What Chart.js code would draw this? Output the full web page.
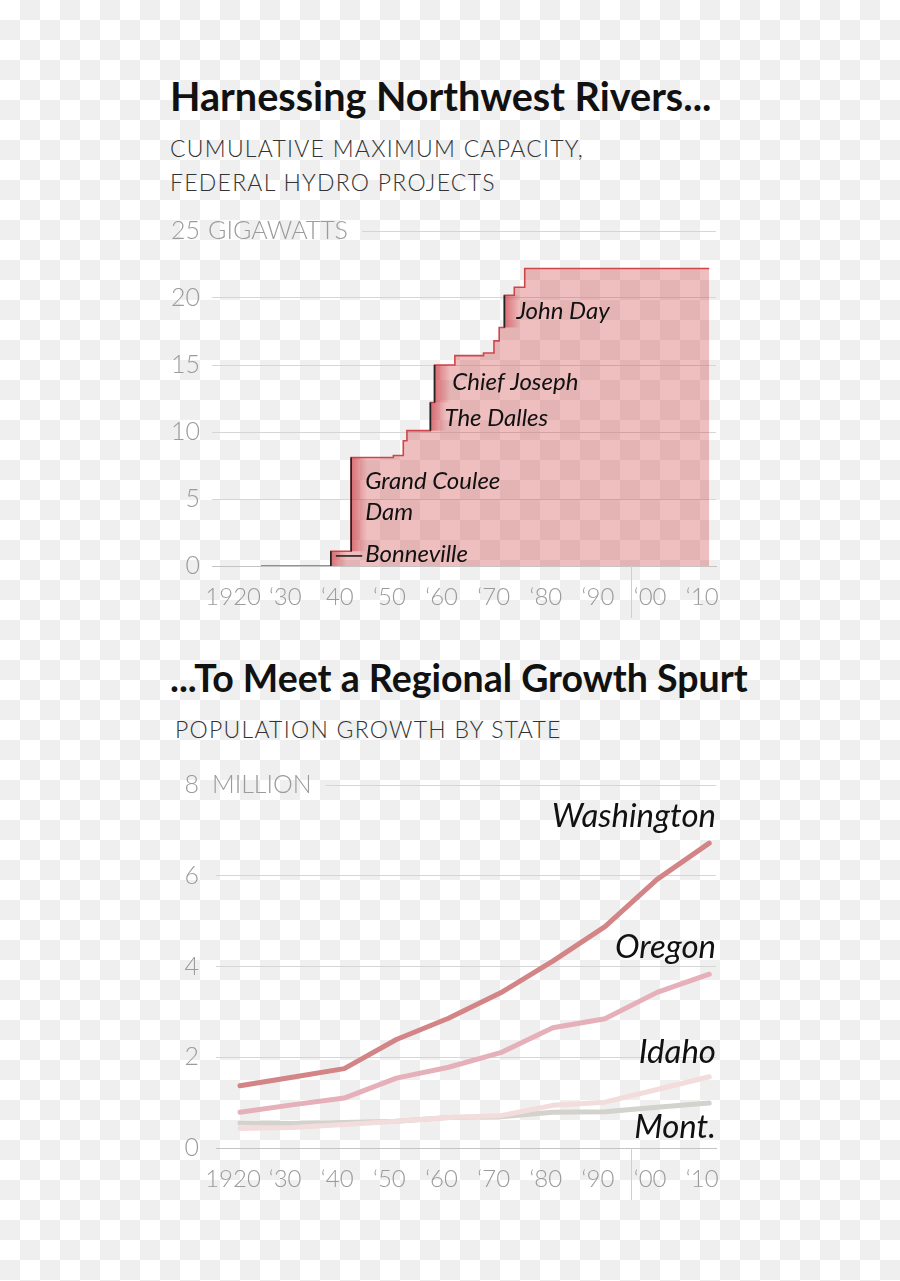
<!DOCTYPE html>
<html>
<head>
<meta charset="utf-8">
<script src="https://cdn.jsdelivr.net/npm/chart.js@4.4.1/dist/chart.umd.min.js"></script>
<style>
  html, body { margin: 0; padding: 0; }
  body {
    width: 900px; height: 1281px; position: relative; overflow: hidden;
    background: repeating-conic-gradient(#efefef 0 25%, #ffffff 0 50%) 0 0 / 40px 40px;
    font-family: Lato, "Noto Sans", sans-serif;
  }
  .title { position: absolute; left: 170px; font-weight: 700; line-height: 1; color: #111; white-space: nowrap; }
  .sub { position: absolute; font-weight: 300; font-size: 23px; line-height: 34px; letter-spacing: 1.25px; color: #333; white-space: nowrap; }
  .box { position: absolute; left: 160px; width: 570px; }
</style>
</head>
<body>
<div class="title" style="top:76px; font-size:39.6px">Harnessing Northwest Rivers...</div>
<div class="sub" style="left:170px; top:131px">CUMULATIVE MAXIMUM CAPACITY,<br>FEDERAL HYDRO PROJECTS</div>
<div class="box" style="top:215px; height:415px"><canvas id="capacityChart"></canvas></div>

<div class="title" style="top:659px; font-size:37.5px">...To Meet a Regional Growth Spurt</div>
<div class="sub" style="left:175px; top:712px">POPULATION GROWTH BY STATE</div>
<div class="box" style="top:770px; height:440px"><canvas id="populationChart"></canvas></div>

<script>
// Capacity of federal hydro projects (gigawatts), stepping up at each year
const capacityYears = [1924, 1937.4, 1941.3, 1949.4, 1951.3, 1952, 1956.5, 1957.3, 1961.2, 1966.7, 1968.7, 1969.7, 1970.7, 1972.6, 1974.6, 2010];
const capacityGW = [0, 1.1, 8.1, 8.25, 9.35, 10.1, 12.2, 15.0, 15.7, 15.9, 16.8, 17.8, 20.2, 20.8, 22.2, 22.2];

// Dams called out on the chart: the step they belong to and where the label sits
const damNames = ['Bonneville', 'Grand Coulee', 'Dam', 'The Dalles', 'Chief Joseph', 'John Day'];
const damSteps = [1, 2, 6, 7, 12];
const damLabelYears = [1944.0, 1944.0, 1944.0, 1959.2, 1960.7, 1973.0];
const damLabelValues = [0.9, 6.3, 4.0, 11.0, 13.7, 19.0];

// Population by state (millions), census years
const censusYears = [1920, 1930, 1940, 1950, 1960, 1970, 1980, 1990, 2000, 2010];
const washington = [1.37, 1.56, 1.75, 2.39, 2.86, 3.42, 4.12, 4.88, 5.92, 6.72];
const oregon = [0.79, 0.95, 1.10, 1.54, 1.78, 2.10, 2.65, 2.85, 3.43, 3.83];
const idaho = [0.43, 0.45, 0.52, 0.59, 0.67, 0.71, 0.94, 1.01, 1.29, 1.57];
const montana = [0.55, 0.54, 0.56, 0.59, 0.67, 0.69, 0.79, 0.80, 0.90, 0.99];
const stateNames = ['Washington', 'Oregon', 'Idaho', 'Mont.'];
const stateLabelValues = [7.3, 4.43, 2.11, 0.46];

const decadeTicks = [1920, 1930, 1940, 1950, 1960, 1970, 1980, 1990, 2000, 2010];
const dividerYear = 1995;

const FONT = 'Lato, "Noto Sans", sans-serif';
const tickColor = '#9b9b9b';
const gridColor = '#d6d6d6';

function decadeLabel(v) {
    return v === 1920 ? '1920' : '\u2018' + String(v).slice(2);
}

// let the layout padding alone decide where the plot area sits
function noScalePadding(s) {
    s.paddingTop = 0;
    s.paddingBottom = 0;
    s.paddingLeft = 0;
    s.paddingRight = 0;
}

function xAxis(min, max, height) {
    return {
        type: 'linear',
        min: min,
        max: max,
        afterBuildTicks: s => { s.ticks = decadeTicks.map(v => ({ value: v })); },
        afterFit: s => { s.height = height; noScalePadding(s); },
        grid: { display: false, drawTicks: false },
        border: { display: true, color: '#c4c4c4', width: 1 },
        ticks: {
            callback: decadeLabel,
            color: tickColor,
            font: { family: FONT, size: 24, weight: '300' },
            padding: 17,
            labelOffset: -7,
            maxRotation: 0,
            autoSkip: false
        }
    };
}

function yAxis(max, step, width, pad) {
    return {
        min: 0,
        max: max,
        z: 1,
        afterFit: s => { s.width = width; noScalePadding(s); },
        border: { display: false },
        grid: {
            drawTicks: false,
            color: c => (c.tick && c.tick.value === max) ? 'rgba(0,0,0,0)' : gridColor,
            lineWidth: 1
        },
        ticks: {
            stepSize: step,
            color: tickColor,
            font: { family: FONT, size: 25, weight: '300' },
            padding: pad
        }
    };
}

// unit word after the top tick, its shortened gridline, and the divider tick under the axis
function axisExtras(unit) {
    return {
        id: 'axisExtras',
        afterDraw(chart) {
            const { ctx, chartArea, scales: { x, y } } = chart;
            const top = y.getPixelForValue(y.max);
            ctx.save();
            ctx.font = '300 25px ' + FONT;
            ctx.fillStyle = tickColor;
            ctx.textBaseline = 'middle';
            ctx.textAlign = 'left';
            const tx = chartArea.left - 4;
            ctx.fillText(unit, tx, top);
            const w = ctx.measureText(unit).width;
            ctx.strokeStyle = gridColor;
            ctx.lineWidth = 1;
            ctx.beginPath();
            ctx.moveTo(tx + w + 14, Math.round(top) + 0.5);
            ctx.lineTo(chartArea.right, Math.round(top) + 0.5);
            ctx.stroke();
            const dx = Math.round(x.getPixelForValue(dividerYear)) + 0.5;
            ctx.strokeStyle = '#cfcfcf';
            ctx.beginPath();
            ctx.moveTo(dx, chartArea.bottom);
            ctx.lineTo(dx, chartArea.bottom + 52);
            ctx.stroke();
            ctx.restore();
        }
    };
}

const damMarks = {
    id: 'damMarks',
    afterDatasetsDraw(chart) {
        const { ctx, scales: { x, y } } = chart;
        ctx.save();
        damSteps.forEach(i => {
            const px = x.getPixelForValue(capacityYears[i]);
            const y0 = y.getPixelForValue(capacityGW[i - 1]);
            const y1 = y.getPixelForValue(capacityGW[i]);
            const g = ctx.createLinearGradient(px, 0, px + 16, 0);
            g.addColorStop(0, 'rgba(200, 45, 55, 0.55)');
            g.addColorStop(1, 'rgba(200, 45, 55, 0)');
            ctx.fillStyle = g;
            ctx.fillRect(px, y1, 16, y0 - y1);
            ctx.strokeStyle = '#222';
            ctx.lineWidth = 1.6;
            ctx.beginPath();
            ctx.moveTo(px, y0);
            ctx.lineTo(px, y1);
            ctx.stroke();
        });
        // leader line to Bonneville
        const bx = x.getPixelForValue(capacityYears[damSteps[0]]);
        const lx = x.getPixelForValue(damLabelYears[0]);
        const ly = y.getPixelForValue(damLabelValues[0]) + 2;
        ctx.beginPath();
        ctx.moveTo(bx + 5, ly);
        ctx.lineTo(lx - 3, ly);
        ctx.stroke();

        ctx.fillStyle = '#111';
        ctx.font = 'italic 24px ' + FONT;
        ctx.textBaseline = 'middle';
        ctx.textAlign = 'left';
        damNames.forEach((name, k) => {
            ctx.fillText(name, x.getPixelForValue(damLabelYears[k]), y.getPixelForValue(damLabelValues[k]));
        });
        ctx.restore();
    }
};

const stateLabels = {
    id: 'stateLabels',
    afterDatasetsDraw(chart) {
        const { ctx, chartArea, scales: { y } } = chart;
        ctx.save();
        ctx.fillStyle = '#111';
        ctx.font = 'italic 33px ' + FONT;
        ctx.textBaseline = 'middle';
        ctx.textAlign = 'right';
        stateNames.forEach((name, k) => {
            ctx.fillText(name, chartArea.right, y.getPixelForValue(stateLabelValues[k]));
        });
        ctx.restore();
    }
};

Chart.defaults.font.family = FONT;

new Chart(document.getElementById('capacityChart').getContext('2d'), {
    type: 'line',
    data: {
        datasets: [{
            label: 'Capacity',
            data: capacityYears.map((yr, i) => ({ x: yr, y: capacityGW[i] })),
            stepped: 'before',
            borderColor: '#d0454b',
            borderWidth: 1.6,
            backgroundColor: 'rgba(205, 60, 65, 0.33)',
            fill: 'origin',
            pointRadius: 0
        }]
    },
    options: {
        responsive: true,
        maintainAspectRatio: false,
        animation: false,
        layout: { padding: { top: 16, right: 14, left: 0, bottom: 0 } },
        plugins: { legend: { display: false }, tooltip: { enabled: false } },
        scales: {
            x: xAxis(1914.6, 2011.3, 64),
            y: yAxis(25, 5, 52, 12)
        }
    },
    plugins: [damMarks, axisExtras('GIGAWATTS')]
});

function stateLine(label, values, color) {
    return {
        label: label,
        data: censusYears.map((yr, i) => ({ x: yr, y: values[i] })),
        borderColor: color,
        borderWidth: 5,
        borderCapStyle: 'round',
        borderJoinStyle: 'round',
        pointRadius: 0,
        fill: false,
        tension: 0
    };
}

new Chart(document.getElementById('populationChart').getContext('2d'), {
    type: 'line',
    data: {
        datasets: [
            stateLine('Washington', washington, '#d38486'),
            stateLine('Oregon', oregon, '#e5b0b9'),
            stateLine('Idaho', idaho, '#f2dcdc'),
            stateLine('Montana', montana, '#d3d2cc')
        ]
    },
    options: {
        responsive: true,
        maintainAspectRatio: false,
        animation: false,
        layout: { padding: { top: 15, right: 14, left: 0, bottom: 0 } },
        plugins: { legend: { display: false }, tooltip: { enabled: false } },
        scales: {
            x: xAxis(1915.4, 2011.3, 62),
            y: yAxis(8, 2, 56, 17)
        }
    },
    plugins: [stateLabels, axisExtras('MILLION')]
});
</script>
</body>
</html>
